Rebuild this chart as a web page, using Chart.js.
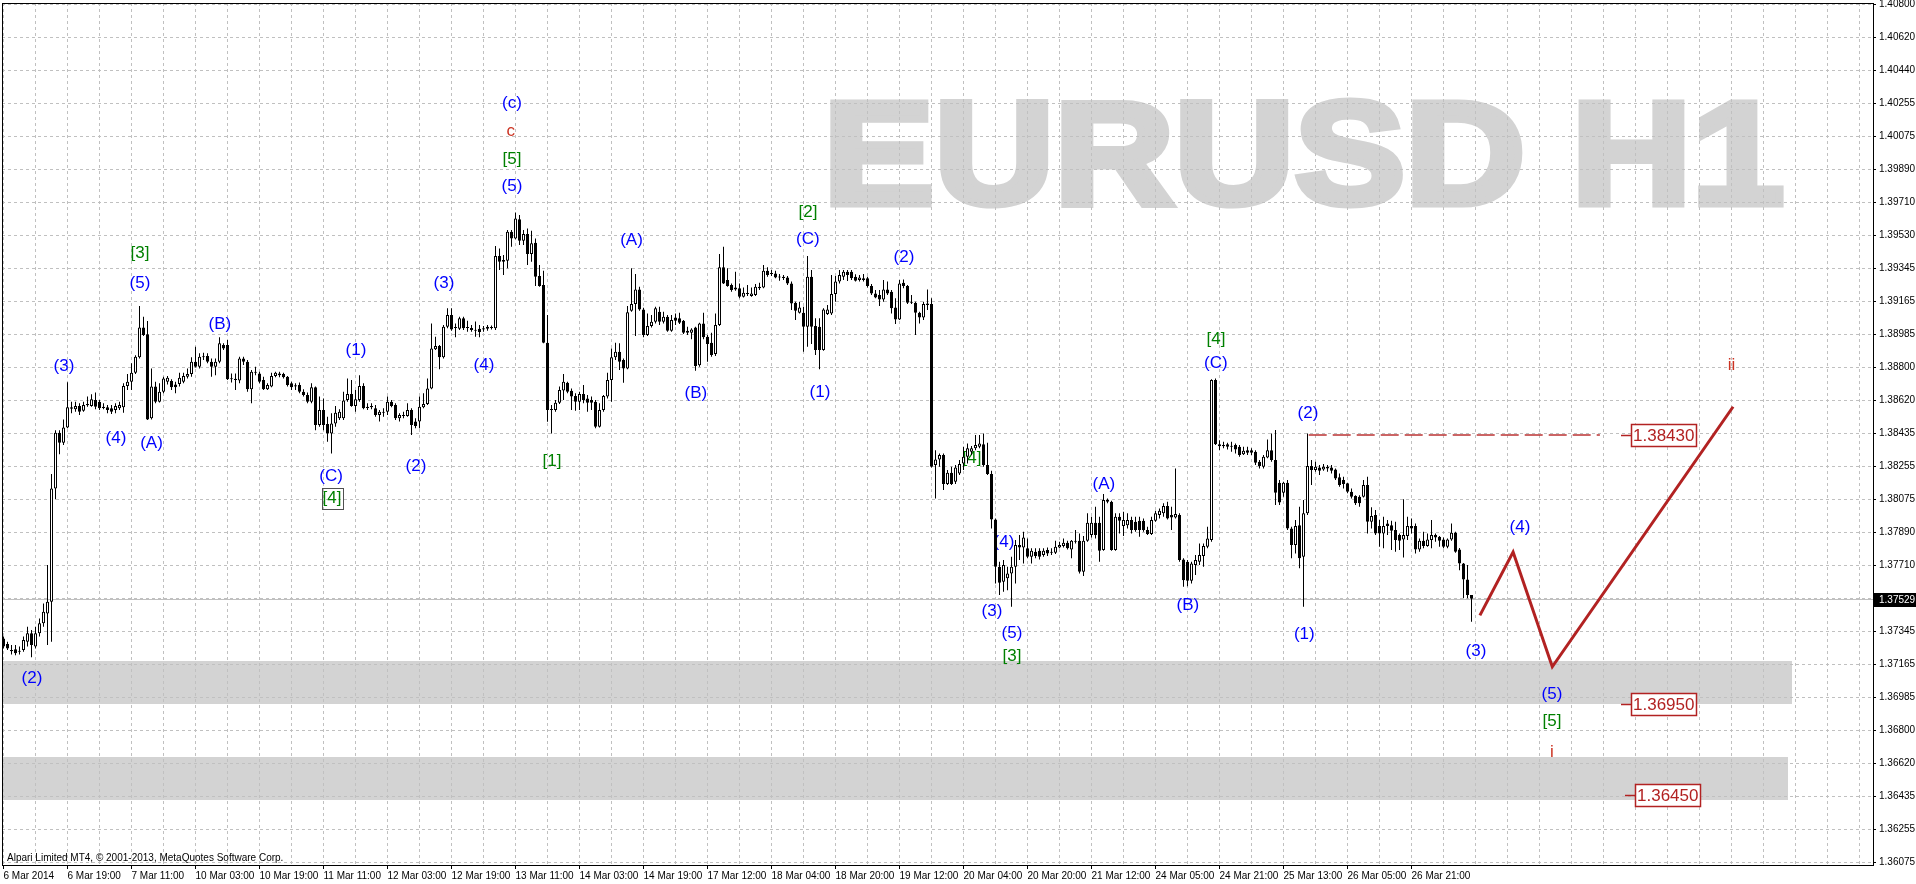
<!DOCTYPE html>
<html>
<head>
<meta charset="utf-8">
<script src="https://cdn.jsdelivr.net/npm/chart.js@4.4.1/dist/chart.umd.min.js"></script>
<style>
html, body { margin: 0; padding: 0; background: #fff; }
#wrap { width: 1916px; height: 884px; }
canvas { display: block; }
</style>
</head>
<body>
<div id="wrap"><canvas id="chart" width="1916" height="884"></canvas></div>
<script>
// x axis labels, one every 16 hourly bars starting at bar 0 (6 Mar 03:00)
const xLabels = ['6 Mar 2014', '6 Mar 19:00', '7 Mar 11:00', '10 Mar 03:00', '10 Mar 19:00', '11 Mar 11:00',
  '12 Mar 03:00', '12 Mar 19:00', '13 Mar 11:00', '14 Mar 03:00', '14 Mar 19:00', '17 Mar 12:00',
  '18 Mar 04:00', '18 Mar 20:00', '19 Mar 12:00', '20 Mar 04:00', '20 Mar 20:00', '21 Mar 12:00',
  '24 Mar 05:00', '24 Mar 21:00', '25 Mar 13:00', '26 Mar 05:00', '26 Mar 21:00'];

// price axis labels, top to bottom (the blank one sits under the current price box)
const yLabels = ['1.40800', '1.40620', '1.40440', '1.40255', '1.40075', '1.39890', '1.39710', '1.39530',
  '1.39345', '1.39165', '1.38985', '1.38800', '1.38620', '1.38435', '1.38255', '1.38075', '1.37890',
  '1.37710', '', '1.37345', '1.37165', '1.36985', '1.36800', '1.36620', '1.36435', '1.36255', '1.36075'];

// EURUSD H1 candles
const opens = [
1.37310,1.37279,1.37246,1.37250,1.37237,1.37246,1.37292,1.37338,1.37265,1.37338,
1.37393,1.37448,1.37512,1.38136,1.38443,1.38388,1.38472,1.38583,1.38572,1.38590,
1.38564,1.38594,1.38590,1.38623,1.38614,1.38586,1.38583,1.38577,1.38568,1.38577,
1.38583,1.38700,1.38724,1.38773,1.38858,1.39023,1.38985,1.38522,1.38697,1.38614,
1.38669,1.38724,1.38728,1.38709,1.38711,1.38724,1.38751,1.38766,1.38834,1.38806,
1.38861,1.38865,1.38834,1.38806,1.38834,1.38926,1.38926,1.38737,1.38740,1.38730,
1.38852,1.38834,1.38682,1.38779,1.38769,1.38733,1.38682,1.38697,1.38755,1.38769,
1.38766,1.38751,1.38715,1.38704,1.38706,1.38669,1.38651,1.38614,1.38693,1.38485,
1.38568,1.38491,1.38439,1.38494,1.38522,1.38522,1.38623,1.38656,1.38590,1.38623,
1.38700,1.38586,1.38590,1.38577,1.38541,1.38559,1.38559,1.38614,1.38596,1.38522,
1.38539,1.38535,1.38568,1.38504,1.38504,1.38583,1.38601,1.38687,1.38902,1.38920,
1.38858,1.39027,1.39091,1.39023,1.39016,1.39073,1.39023,1.39019,1.39009,1.39016,
1.39018,1.39027,1.39023,1.39018,1.39416,1.39385,1.39390,1.39550,1.39513,1.39618,
1.39500,1.39537,1.39427,1.39489,1.39306,1.39256,1.38939,1.38568,1.38568,1.38608,
1.38675,1.38718,1.38674,1.38645,1.38614,1.38656,1.38632,1.38623,1.38614,1.38476,
1.38568,1.38642,1.38733,1.38858,1.38889,1.38843,1.38797,1.39115,1.39152,1.39232,
1.39122,1.38981,1.39030,1.39054,1.39109,1.39054,1.39082,1.39005,1.39078,1.39073,
1.39060,1.39005,1.38994,1.39023,1.38814,1.39045,1.38972,1.38939,1.38876,1.39036,
1.39354,1.39284,1.39256,1.39232,1.39238,1.39192,1.39210,1.39196,1.39201,1.39247,
1.39243,1.39335,1.39320,1.39320,1.39298,1.39302,1.39298,1.39265,1.39159,1.39104,
1.39104,1.39027,1.39302,1.39030,1.39027,1.38898,1.39096,1.39100,1.39207,1.39275,
1.39302,1.39330,1.39330,1.39302,1.39284,1.39284,1.39293,1.39251,1.39210,1.39201,
1.39177,1.39232,1.39219,1.39133,1.39067,1.39269,1.39251,1.39159,1.39159,1.39104,
1.39078,1.39146,1.39152,1.38265,1.38296,1.38320,1.38160,1.38223,1.38173,1.38219,
1.38274,1.38311,1.38338,1.38357,1.38366,1.38380,1.38265,1.38215,1.37965,1.37705,
1.37622,1.37641,1.37668,1.37705,1.37824,1.37811,1.37806,1.37760,1.37787,1.37793,
1.37769,1.37797,1.37782,1.37782,1.37811,1.37819,1.37837,1.37800,1.37848,1.37848,
1.37677,1.37848,1.37879,1.37947,1.37947,1.37797,1.38072,1.38063,1.37797,1.37980,
1.37929,1.37934,1.37962,1.37953,1.37958,1.37958,1.37907,1.37885,1.37958,1.37990,
1.37999,1.38039,1.37990,1.37976,1.37990,1.37745,1.37733,1.37628,1.37714,1.37733,
1.37764,1.37815,1.37852,1.38733,1.38380,1.38375,1.38380,1.38369,1.38375,1.38366,
1.38325,1.38347,1.38347,1.38338,1.38283,1.38256,1.38307,1.38347,1.38292,1.38168,
1.38113,1.38168,1.37916,1.37824,1.37934,1.37760,1.37999,1.38259,1.38237,1.38252,
1.38241,1.38256,1.38252,1.38241,1.38197,1.38182,1.38164,1.38118,1.38094,1.38090,
1.38090,1.38155,1.37953,1.37990,1.37929,1.37888,1.37943,1.37934,1.37907,1.37879,
1.37855,1.37874,1.37929,1.37929,1.37800,1.37848,1.37819,1.37852,1.37879,1.37870,
1.37855,1.37815,1.37855,1.37892,1.37800,1.37723,1.37635,1.37549];

const highs = [
1.37320,1.37292,1.37274,1.37274,1.37265,1.37320,1.37374,1.37356,1.37374,1.37420,
1.37503,1.37714,1.38216,1.38457,1.38457,1.38516,1.38721,1.38614,1.38614,1.38605,
1.38614,1.38642,1.38655,1.38664,1.38623,1.38605,1.38596,1.38596,1.38605,1.38614,
1.38715,1.38766,1.38825,1.38870,1.39141,1.39082,1.39058,1.38797,1.38724,1.38715,
1.38751,1.38755,1.38737,1.38724,1.38773,1.38773,1.38797,1.38858,1.38917,1.38880,
1.38883,1.38880,1.38852,1.38852,1.38968,1.38935,1.38953,1.38769,1.38769,1.38861,
1.38861,1.38843,1.38788,1.38806,1.38779,1.38751,1.38715,1.38773,1.38779,1.38779,
1.38773,1.38755,1.38724,1.38715,1.38719,1.38682,1.38664,1.38715,1.38697,1.38642,
1.38632,1.38531,1.38550,1.38590,1.38572,1.38669,1.38742,1.38733,1.38678,1.38760,
1.38715,1.38605,1.38605,1.38596,1.38568,1.38577,1.38642,1.38623,1.38605,1.38550,
1.38559,1.38605,1.38577,1.38522,1.38642,1.38660,1.38742,1.39045,1.38972,1.38926,
1.39036,1.39128,1.39128,1.39045,1.39082,1.39082,1.39060,1.39036,1.39055,1.39036,
1.39031,1.39036,1.39034,1.39471,1.39458,1.39421,1.39559,1.39559,1.39655,1.39642,
1.39559,1.39568,1.39555,1.39513,1.39366,1.39335,1.39091,1.38595,1.38623,1.38697,
1.38766,1.38724,1.38687,1.38660,1.38669,1.38706,1.38651,1.38642,1.38623,1.38605,
1.38651,1.38773,1.38907,1.38939,1.38935,1.38852,1.39141,1.39348,1.39317,1.39247,
1.39131,1.39100,1.39091,1.39137,1.39137,1.39109,1.39091,1.39091,1.39100,1.39104,
1.39063,1.39027,1.39018,1.39027,1.39049,1.39104,1.38981,1.38994,1.39100,1.39427,
1.39467,1.39348,1.39265,1.39330,1.39265,1.39243,1.39256,1.39243,1.39262,1.39269,
1.39366,1.39354,1.39339,1.39335,1.39317,1.39311,1.39306,1.39275,1.39164,1.39164,
1.39137,1.39416,1.39339,1.39073,1.39073,1.39128,1.39146,1.39311,1.39306,1.39339,
1.39339,1.39339,1.39339,1.39315,1.39311,1.39317,1.39302,1.39262,1.39229,1.39229,
1.39284,1.39275,1.39229,1.39183,1.39284,1.39287,1.39256,1.39201,1.39164,1.39109,
1.39164,1.39232,1.39183,1.38347,1.38329,1.38329,1.38237,1.38256,1.38265,1.38292,
1.38366,1.38384,1.38370,1.38430,1.38430,1.38439,1.38388,1.38234,1.37971,1.37733,
1.37742,1.37705,1.37760,1.37852,1.37879,1.37898,1.37861,1.37806,1.37806,1.37806,
1.37806,1.37811,1.37806,1.37848,1.37843,1.37861,1.37848,1.37852,1.37907,1.37888,
1.37874,1.37999,1.37980,1.38035,1.37980,1.38105,1.38081,1.38068,1.37999,1.37999,
1.38008,1.37999,1.37980,1.37980,1.37980,1.37971,1.37925,1.37980,1.38013,1.38026,
1.38054,1.38063,1.38035,1.38246,1.37999,1.37751,1.37742,1.37733,1.37769,1.37833,
1.37833,1.37925,1.38737,1.38742,1.38402,1.38393,1.38388,1.38393,1.38384,1.38375,
1.38366,1.38366,1.38357,1.38347,1.38292,1.38320,1.38406,1.38439,1.38458,1.38182,
1.38173,1.38182,1.37925,1.37962,1.38035,1.38072,1.38439,1.38292,1.38283,1.38265,
1.38270,1.38265,1.38265,1.38246,1.38219,1.38201,1.38168,1.38136,1.38099,1.38099,
1.38182,1.38201,1.38032,1.38017,1.37962,1.37980,1.37962,1.37958,1.37953,1.37888,
1.38076,1.37980,1.37971,1.37943,1.37861,1.37898,1.37888,1.37962,1.37888,1.37874,
1.37866,1.37861,1.37943,1.37898,1.37808,1.37725,1.37714,1.37549];

const lows = [
1.37255,1.37246,1.37222,1.37218,1.37222,1.37237,1.37265,1.37206,1.37255,1.37320,
1.37374,1.37274,1.37292,1.38076,1.38325,1.38375,1.38467,1.38550,1.38559,1.38541,
1.38559,1.38586,1.38586,1.38572,1.38568,1.38572,1.38550,1.38546,1.38550,1.38568,
1.38553,1.38678,1.38678,1.38766,1.38852,1.38975,1.38513,1.38516,1.38605,1.38609,
1.38660,1.38709,1.38678,1.38660,1.38697,1.38715,1.38742,1.38751,1.38802,1.38797,
1.38843,1.38825,1.38751,1.38760,1.38825,1.38898,1.38733,1.38719,1.38678,1.38715,
1.38816,1.38669,1.38605,1.38760,1.38715,1.38678,1.38678,1.38693,1.38748,1.38748,
1.38742,1.38697,1.38678,1.38678,1.38660,1.38642,1.38605,1.38605,1.38457,1.38476,
1.38457,1.38393,1.38329,1.38476,1.38513,1.38513,1.38614,1.38586,1.38559,1.38614,
1.38572,1.38568,1.38572,1.38531,1.38504,1.38531,1.38541,1.38583,1.38513,1.38504,
1.38522,1.38531,1.38430,1.38467,1.38467,1.38577,1.38596,1.38682,1.38898,1.38792,
1.38852,1.39018,1.39005,1.38968,1.39009,1.39009,1.38999,1.38999,1.38972,1.38968,
1.38999,1.39005,1.39012,1.39009,1.39339,1.39311,1.39348,1.39467,1.39508,1.39477,
1.39477,1.39366,1.39385,1.39251,1.39247,1.38935,1.38503,1.38439,1.38559,1.38601,
1.38623,1.38660,1.38568,1.38564,1.38568,1.38605,1.38559,1.38568,1.38467,1.38472,
1.38559,1.38632,1.38614,1.38843,1.38788,1.38718,1.38792,1.39109,1.38975,1.39115,
1.38968,1.38975,1.39023,1.39045,1.39036,1.39045,1.38999,1.38999,1.39036,1.39041,
1.38986,1.38981,1.38957,1.38784,1.38806,1.38957,1.38834,1.38861,1.38865,1.39030,
1.39262,1.39247,1.39219,1.39225,1.39183,1.39188,1.39196,1.39192,1.39196,1.39229,
1.39238,1.39302,1.39306,1.39293,1.39280,1.39284,1.39256,1.39119,1.39063,1.39100,
1.38889,1.38917,1.38931,1.38871,1.38792,1.38894,1.39091,1.39091,1.39164,1.39265,
1.39284,1.39278,1.39284,1.39275,1.39275,1.39275,1.39243,1.39201,1.39183,1.39141,
1.39164,1.39201,1.39100,1.39041,1.39063,1.39238,1.39152,1.39152,1.38981,1.39045,
1.39063,1.39119,1.38252,1.38081,1.38256,1.38127,1.38155,1.38155,1.38160,1.38210,
1.38237,1.38274,1.38320,1.38347,1.38357,1.38256,1.38210,1.37916,1.37613,1.37549,
1.37567,1.37576,1.37485,1.37613,1.37742,1.37723,1.37751,1.37723,1.37751,1.37745,
1.37760,1.37764,1.37769,1.37775,1.37806,1.37811,1.37800,1.37751,1.37833,1.37668,
1.37654,1.37843,1.37866,1.37861,1.37733,1.37793,1.38054,1.37793,1.37793,1.37888,
1.37874,1.37916,1.37888,1.37898,1.37870,1.37898,1.37879,1.37879,1.37953,1.37971,
1.37980,1.37965,1.37907,1.37971,1.37733,1.37595,1.37598,1.37613,1.37659,1.37714,
1.37705,1.37806,1.37843,1.38375,1.38347,1.38357,1.38351,1.38338,1.38329,1.38311,
1.38320,1.38320,1.38320,1.38265,1.38246,1.38246,1.38302,1.38283,1.38045,1.38045,
1.38090,1.37907,1.37751,1.37778,1.37696,1.37485,1.37990,1.38155,1.38228,1.38210,
1.38234,1.38228,1.38219,1.38182,1.38146,1.38136,1.38109,1.38081,1.38045,1.38035,
1.38086,1.37888,1.37916,1.37879,1.37815,1.37806,1.37879,1.37797,1.37787,1.37797,
1.37756,1.37852,1.37888,1.37778,1.37787,1.37806,1.37815,1.37806,1.37843,1.37815,
1.37806,1.37806,1.37848,1.37782,1.37686,1.37532,1.37532,1.37402];

const closes = [
1.37265,1.37255,1.37240,1.37228,1.37242,1.37301,1.37338,1.37274,1.37338,1.37393,
1.37457,1.37512,1.38136,1.38443,1.38388,1.38472,1.38583,1.38575,1.38590,1.38559,
1.38596,1.38601,1.38627,1.38586,1.38577,1.38579,1.38568,1.38559,1.38590,1.38596,
1.38700,1.38724,1.38773,1.38861,1.39023,1.38981,1.38516,1.38697,1.38614,1.38669,
1.38742,1.38746,1.38693,1.38693,1.38746,1.38755,1.38766,1.38834,1.38806,1.38861,
1.38858,1.38834,1.38806,1.38834,1.38935,1.38907,1.38737,1.38740,1.38733,1.38852,
1.38834,1.38682,1.38779,1.38773,1.38724,1.38682,1.38706,1.38755,1.38773,1.38759,
1.38748,1.38706,1.38693,1.38697,1.38669,1.38651,1.38614,1.38693,1.38485,1.38568,
1.38485,1.38439,1.38494,1.38553,1.38559,1.38620,1.38656,1.38590,1.38627,1.38700,
1.38577,1.38579,1.38583,1.38541,1.38559,1.38553,1.38614,1.38590,1.38522,1.38541,
1.38535,1.38568,1.38485,1.38480,1.38586,1.38601,1.38687,1.38907,1.38920,1.38858,
1.39027,1.39091,1.39012,1.39019,1.39073,1.39018,1.39019,1.39009,1.39005,1.38998,
1.39012,1.39016,1.39019,1.39416,1.39385,1.39394,1.39550,1.39513,1.39623,1.39500,
1.39537,1.39427,1.39486,1.39302,1.39251,1.38939,1.38568,1.38571,1.38608,1.38678,
1.38724,1.38669,1.38642,1.38614,1.38656,1.38623,1.38608,1.38608,1.38476,1.38568,
1.38645,1.38733,1.38858,1.38889,1.38834,1.38797,1.39106,1.39152,1.39232,1.39122,
1.38981,1.39030,1.39054,1.39128,1.39054,1.39082,1.39005,1.39063,1.39060,1.39049,
1.38994,1.38994,1.39012,1.38810,1.39045,1.38968,1.38931,1.38871,1.39036,1.39354,
1.39265,1.39251,1.39229,1.39243,1.39192,1.39214,1.39207,1.39210,1.39247,1.39238,
1.39335,1.39311,1.39317,1.39298,1.39302,1.39295,1.39265,1.39155,1.39115,1.39133,
1.39027,1.39302,1.39027,1.38898,1.38898,1.39122,1.39122,1.39207,1.39275,1.39311,
1.39330,1.39311,1.39293,1.39280,1.39298,1.39293,1.39251,1.39210,1.39188,1.39177,
1.39232,1.39210,1.39128,1.39067,1.39265,1.39251,1.39159,1.39164,1.39104,1.39078,
1.39152,1.39155,1.38256,1.38296,1.38320,1.38160,1.38223,1.38160,1.38252,1.38270,
1.38311,1.38357,1.38357,1.38375,1.38384,1.38265,1.38215,1.37965,1.37705,1.37617,
1.37714,1.37668,1.37705,1.37824,1.37811,1.37866,1.37760,1.37793,1.37764,1.37760,
1.37793,1.37778,1.37787,1.37815,1.37824,1.37837,1.37806,1.37848,1.37843,1.37677,
1.37848,1.37947,1.37947,1.37879,1.37793,1.38072,1.38063,1.37797,1.37980,1.37958,
1.37962,1.37962,1.37907,1.37907,1.37907,1.37907,1.37885,1.37962,1.37999,1.38013,
1.38039,1.37971,1.37976,1.37995,1.37742,1.37631,1.37628,1.37723,1.37742,1.37769,
1.37819,1.37861,1.38733,1.38380,1.38369,1.38369,1.38366,1.38366,1.38351,1.38320,
1.38344,1.38333,1.38333,1.38278,1.38259,1.38311,1.38347,1.38292,1.38113,1.38058,
1.38168,1.37916,1.37824,1.37929,1.37751,1.37999,1.38259,1.38237,1.38256,1.38234,
1.38256,1.38246,1.38234,1.38191,1.38155,1.38160,1.38118,1.38090,1.38054,1.38054,
1.38155,1.37953,1.37984,1.37888,1.37888,1.37929,1.37929,1.37903,1.37852,1.37848,
1.37879,1.37929,1.37916,1.37800,1.37848,1.37819,1.37855,1.37879,1.37866,1.37848,
1.37815,1.37855,1.37892,1.37787,1.37723,1.37635,1.37549,1.37529];

// Elliott wave marks: text, anchor bar, anchor price
const waveText = ['(2)', '(3)', '(4)', '[3]', '(5)', '(A)', '(B)', '(1)', '(C)', '[4]', '(2)', '(3)', '(4)',
  '(c)', 'c', '[5]', '(5)', '[1]', '(A)', '(B)', '[2]', '(C)', '(1)', '(2)', '[4]', '(3)', '(4)', '(5)',
  '[3]', '(A)', '(B)', '[4]', '(C)', '(2)', '(1)', '(3)', '(4)', '(5)', '[5]', 'i', 'ii'];
const waveBar = [7.1, 15.1, 28.1, 34.1, 34.1, 37.0, 54.1, 88.1, 81.9, 82.1, 103.1, 110.1, 120.1,
  127.1, 126.8, 127.1, 127.1, 137.1, 157.0, 173.1, 201.1, 201.1, 204.1, 225.1, 242.1, 247.1, 250.1, 252.1,
  252.1, 275.1, 296.1, 303.1, 303.1, 326.1, 325.2, 368.1, 379.1, 387.1, 387.1, 387.1, 432.0];
const wavePrice = [1.37092, 1.38810, 1.38414, 1.39433, 1.39268, 1.38386, 1.39042, 1.38899, 1.38205, 1.38084,
  1.38260, 1.39268, 1.38816, 1.40259, 1.40105, 1.39950, 1.39802, 1.38283, 1.39500, 1.38662, 1.39655, 1.39510,
  1.38663, 1.39407, 1.38304, 1.37461, 1.37841, 1.37340, 1.37213, 1.38161, 1.37494, 1.38959, 1.38827, 1.38552,
  1.37335, 1.37237, 1.37920, 1.37004, 1.36856, 1.36685, 1.38816];

// projected path (4)-(5)-ii
const projBar = [369.1, 377.4, 387.2, 432.4];
const projPrice = [1.37437, 1.37786, 1.37154, 1.38586];

// price levels with their tags
const levelPrices = [1.38430, 1.36950, 1.36450];
const levelBar = [406.8, 406.8, 407.8];

// support zones
const zoneTop = [1.37186, 1.36659];
const zoneBottom = [1.36949, 1.36420];
const zoneEnd = [447, 446];

const FONT = '"Liberation Sans", Arial, sans-serif';
const RED = '#b22222';

const yTop = parseFloat(yLabels[0]);
const yBottom = parseFloat(yLabels[yLabels.length - 1]);
const yStep = (yTop - yBottom) / (yLabels.length - 1);
const perPx = yStep / 33;

const bars = closes.map((c, i) => i);
const wickData = bars.map(i => ({ x: i, y: [lows[i], highs[i]] }));
const bodyData = bars.map(i => ({ x: i, y: [opens[i], closes[i]] }));
const bodyColors = bars.map(i => closes[i] >= opens[i] ? '#ffffff' : '#000000');
const lastPrice = closes[closes.length - 1];

const mt4Plugin = {
    id: 'mt4',
    beforeDraw(chart) {
        const { ctx, chartArea: a, scales: { x, y } } = chart;
        ctx.save();
        ctx.fillStyle = '#ffffff';
        ctx.fillRect(0, 0, chart.width, chart.height);

        // gray zones
        ctx.fillStyle = '#d3d3d3';
        zoneTop.forEach((t, i) => {
            const y1 = Math.round(y.getPixelForValue(t));
            const y2 = Math.round(y.getPixelForValue(zoneBottom[i]));
            const x2 = Math.round(x.getPixelForValue(zoneEnd[i]));
            ctx.fillRect(a.left, y1, x2 - a.left, y2 - y1);
        });

        // watermark
        const text = 'EURUSD H1';
        ctx.font = 'bold 146px ' + FONT;
        ctx.fillStyle = '#d3d3d3';
        ctx.strokeStyle = '#d3d3d3';
        ctx.lineWidth = 7;
        ctx.lineJoin = 'miter';
        const m = ctx.measureText(text);
        const ext = m.actualBoundingBoxLeft + m.actualBoundingBoxRight;
        const sx = (954 - 7) / ext;
        ctx.translate(830 + 3.5, 203.5);
        ctx.scale(sx, 1);
        ctx.fillText(text, m.actualBoundingBoxLeft, 0);
        ctx.strokeText(text, m.actualBoundingBoxLeft, 0);
        ctx.restore();
    },
    beforeDatasetsDraw(chart) {
        const { ctx, chartArea: a, scales: { x, y } } = chart;
        ctx.save();
        // current price line
        const py = Math.round(y.getPixelForValue(lastPrice)) + 0.5;
        ctx.strokeStyle = '#c0c0c0';
        ctx.lineWidth = 1;
        ctx.beginPath();
        ctx.moveTo(a.left, py);
        ctx.lineTo(a.right, py);
        ctx.stroke();

        // wave labels
        ctx.font = '17px ' + FONT;
        ctx.textAlign = 'center';
        ctx.textBaseline = 'middle';
        waveText.forEach((t, i) => {
            const px = x.getPixelForValue(waveBar[i]);
            const ly = y.getPixelForValue(wavePrice[i]);
            if (t[0] === '(') ctx.fillStyle = '#0000ff';
            else if (t[0] === '[') ctx.fillStyle = '#008000';
            else ctx.fillStyle = '#cc3322';
            ctx.fillText(t, px, ly);
            if (i === 9) {
                ctx.strokeStyle = '#505050';
                ctx.lineWidth = 1;
                ctx.strokeRect(Math.round(px - 10) + 0.5, Math.round(ly - 10) + 0.5, 21, 21);
            }
        });
        ctx.restore();
    },
    afterDatasetsDraw(chart) {
        const { ctx, scales: { x, y } } = chart;
        ctx.save();
        ctx.font = '17px ' + FONT;
        ctx.textBaseline = 'middle';
        ctx.textAlign = 'left';
        levelPrices.forEach((p, i) => {
            const px = Math.round(x.getPixelForValue(levelBar[i]));
            const py = Math.round(y.getPixelForValue(p));
            const txt = p.toFixed(5);
            const w = Math.ceil(ctx.measureText(txt).width) + 3;
            ctx.strokeStyle = RED;
            ctx.lineWidth = 1.5;
            ctx.beginPath();
            ctx.moveTo(px - 10, py + 0.5);
            ctx.lineTo(px, py + 0.5);
            ctx.stroke();
            ctx.fillStyle = '#ffffff';
            ctx.fillRect(px, py - 11, w, 22);
            ctx.strokeRect(px + 0.5, py - 10.5, w, 22);
            ctx.fillStyle = RED;
            ctx.fillText(txt, px + 2, py + 1);
        });
        ctx.restore();
    },
    afterDraw(chart) {
        const { ctx, chartArea: a, scales: { y } } = chart;
        ctx.save();
        ctx.strokeStyle = '#000000';
        ctx.lineWidth = 1;
        ctx.strokeRect(a.left + 0.5, a.top + 0.5, a.right - a.left, a.bottom - a.top);

        // current price tag on the axis
        const py = Math.round(y.getPixelForValue(lastPrice));
        ctx.fillStyle = '#000000';
        ctx.fillRect(a.right + 1, py - 6, chart.width - a.right - 1, 14);
        ctx.fillStyle = '#ffffff';
        ctx.font = '10px ' + FONT;
        ctx.textBaseline = 'middle';
        ctx.fillText(lastPrice.toFixed(5), a.right + 6, py + 1);

        ctx.fillStyle = '#000000';
        ctx.fillText('Alpari Limited MT4, \u00A9 2001-2013, MetaQuotes Software Corp.', a.left + 5, a.bottom - 7);
        ctx.restore();
    }
};

new Chart(document.getElementById('chart'), {
    type: 'bar',
    data: {
        datasets: [
            {
                type: 'line',
                data: projBar.map((b, i) => ({ x: b, y: projPrice[i] })),
                borderColor: RED,
                borderWidth: 3,
                pointRadius: 0,
                tension: 0,
                order: -2
            },
            {
                type: 'line',
                data: [{ x: 326.3, y: levelPrices[0] }, { x: 399.1, y: levelPrices[0] }],
                borderColor: '#bb3333',
                borderWidth: 1.5,
                borderDash: [18, 6],
                pointRadius: 0,
                order: -1
            },
            {
                data: bodyData,
                backgroundColor: bodyColors,
                borderColor: '#000000',
                borderWidth: 1,
                borderSkipped: false,
                barThickness: 3,
                maxBarThickness: 3,
                minBarLength: 1,
                grouped: false,
                inflateAmount: 0,
                order: 0
            },
            {
                data: wickData,
                backgroundColor: '#000000',
                borderWidth: 0,
                barThickness: 1,
                maxBarThickness: 1,
                grouped: false,
                inflateAmount: 0,
                order: 1
            }
        ]
    },
    options: {
        responsive: false,
        animation: false,
        devicePixelRatio: 1,
        events: [],
        layout: { padding: { left: 2, top: 3, right: 0, bottom: 0 } },
        plugins: { legend: { display: false }, tooltip: { enabled: false } },
        scales: {
            x: {
                type: 'linear',
                position: 'bottom',
                min: -0.375,
                max: 467.375,
                offset: false,
                afterBuildTicks: s => {
                    const t = [];
                    for (let v = 0; v <= 464; v += 8) t.push({ value: v });
                    s.ticks = t;
                },
                afterFit: s => { s.height = 19; s.paddingLeft = 0; s.paddingRight = 0; },
                grid: {
                    offset: false,
                    color: '#c0c0c0',
                    lineWidth: 1,
                    drawTicks: true,
                    tickLength: 4,
                    tickBorderDash: [],
                    tickColor: c => (c.tick && c.tick.value % 16 === 0 && c.tick.value / 16 < xLabels.length) ? '#000000' : 'rgba(0,0,0,0)'
                },
                border: { display: false, dash: [3, 3] },
                ticks: {
                    autoSkip: false,
                    maxRotation: 0,
                    minRotation: 0,
                    align: 'start',
                    padding: 1,
                    color: '#000000',
                    font: { family: FONT, size: 10 },
                    callback: v => (v % 16 === 0 && v / 16 < xLabels.length) ? xLabels[v / 16] : ''
                }
            },
            y: {
                type: 'linear',
                position: 'right',
                beginAtZero: false,
                min: yBottom - 2.3 * perPx,
                max: yTop + 1.7 * perPx,
                afterBuildTicks: s => {
                    s.ticks = yLabels.map((l, k) => ({ value: yBottom + k * yStep }));
                },
                afterFit: s => { s.width = 43; s.paddingTop = 0; s.paddingBottom = 0; },
                grid: {
                    color: '#c0c0c0',
                    lineWidth: 1,
                    drawTicks: true,
                    tickLength: 3,
                    tickBorderDash: [],
                    tickColor: '#000000'
                },
                border: { display: false, dash: [3, 3] },
                ticks: {
                    padding: 3,
                    color: '#000000',
                    font: { family: FONT, size: 10 },
                    callback: (v, i) => yLabels[yLabels.length - 1 - i]
                }
            }
        }
    },
    plugins: [mt4Plugin]
});
</script>
</body>
</html>
